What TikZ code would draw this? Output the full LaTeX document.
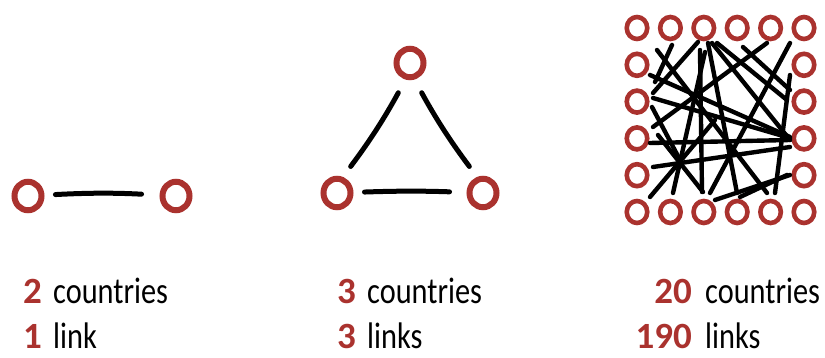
\documentclass[tikz,border=0pt]{standalone}
\usepackage{fontspec}
\setmainfont{Carlito}
\usetikzlibrary{shapes.geometric}
\definecolor{nodered}{RGB}{170,50,46}
\begin{document}
\begin{tikzpicture}[x=1pt,y=-1pt,
  bignode/.style={draw=nodered, line width=6pt, ellipse, minimum width=27pt, minimum height=28.5pt, inner sep=0pt},
  smallnode/.style={draw=nodered, line width=4.6pt, ellipse, minimum width=20.5pt, minimum height=22pt, inner sep=0pt},
  link/.style={line width=5pt, line cap=round},
  gridlink/.style={line width=4.4pt, line cap=round},
  num/.style={anchor=base east, inner sep=0pt, text=nodered, font=\fontsize{37}{40}\selectfont\bfseries},
  word/.style={anchor=base west, inner sep=0pt, font=\fontsize{37}{40}\selectfont}]
\useasboundingbox (0,0) rectangle (825,358);

% two countries
\node[bignode] (a) at (28,196) {};
\node[bignode] (b) at (176,196) {};
\draw[link, shorten <=11pt, shorten >=18pt] (a) to[bend left=3] (b);

% three countries
\node[bignode] (t) at (410,63) {};
\node[bignode] (l) at (337,193) {};
\node[bignode] (r) at (483,193) {};
\draw[link, shorten <=15pt, shorten >=13pt] (t.255) to[bend left=4] (l.70);
\draw[link, shorten <=15pt, shorten >=13pt] (t.285) to[bend right=4] (r.110);
\draw[link, shorten <=11pt, shorten >=17pt] (l) to[bend left=2] (r);

% twenty countries
\foreach \i in {0,...,5} {
  \node[smallnode] (top\i) at ({637+33.4*\i},28) {};
  \node[smallnode] (bot\i) at ({637+33.4*\i},212) {};
}
\foreach \j in {1,...,4} {
  \node[smallnode] (left\j) at (637,{28+36.8*\j}) {};
  \node[smallnode] (right\j) at (804,{28+36.8*\j}) {};
}
\foreach \ax/\ay/\bx/\by in {
  672/45/655/82, 698/42/653/93, 657/50/767/193, 700/50/702/192,
  705/52/673/193, 708/43/737/193, 712/43/790/140, 717/43/787/100,
  743/47/790/90, 767/43/653/127, 790/43/710/193, 790/75/775/193,
  650/75/790/137, 653/98/790/138, 650/143/790/140, 653/167/790/147,
  658/135/703/192, 650/197/715/120, 715/200/790/175, 652/107/680/160,
  740/197/787/175}
  \draw[gridlink] (\ax,\ay) -- (\bx,\by);

% labels
\node[num] (n1) at (42,304) {2};
\node[word] (w1) at (53,304) {\scalebox{0.82}[1]{countries}};
\node[num] (n2) at (42,348) {1};
\node[word] (w2) at (53,348) {\scalebox{0.82}[1]{link}};
\node[num] (n3) at (356,304) {3};
\node[word] (w3) at (367,304) {\scalebox{0.82}[1]{countries}};
\node[num] (n4) at (356,348) {3};
\node[word] (w4) at (367,348) {\scalebox{0.82}[1]{links}};
\node[num] (n5) at (692,304) {20};
\node[word] (w5) at (705,304) {\scalebox{0.82}[1]{countries}};
\node[num] (n6) at (692,348) {190};
\node[word] (w6) at (705,348) {\scalebox{0.82}[1]{links}};
\end{tikzpicture}
\end{document}
